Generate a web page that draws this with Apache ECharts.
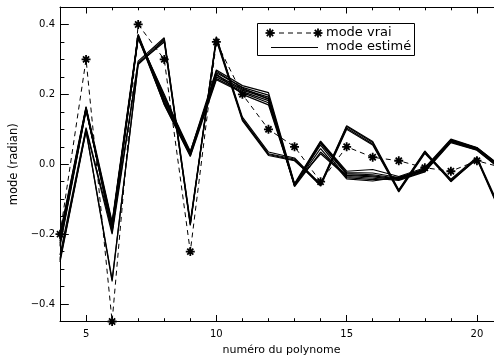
<!DOCTYPE html>
<html>
<head>
<meta charset="utf-8">
<script src="https://cdn.jsdelivr.net/npm/echarts@6/dist/echarts.min.js"></script>
<style>html,body{margin:0;padding:0;background:#fff}#c{width:494px;height:356px}</style>
</head>
<body>
<div id="c"></div>
<script>
// polynomial numbers
const polyNum = [4,5,6,7,8,9,10,11,12,13,14,15,16,17,18,19,20,21];
// true mode
const modeVrai = [-0.20,0.30,-0.45,0.40,0.30,-0.25,0.35,0.20,0.10,0.05,-0.05,0.05,0.02,0.01,-0.01,-0.02,0.01,-0.01];
// estimated modes (family A, dense bundle)
const estA1 = [-0.200,0.165,-0.165,0.372,0.185,0.035,0.270,0.225,0.205,-0.055,0.066,-0.020,-0.015,-0.035,-0.010,0.072,0.048,-0.010];
const estA2 = [-0.210,0.160,-0.170,0.368,0.180,0.030,0.262,0.220,0.198,-0.058,0.064,-0.024,-0.025,-0.038,-0.014,0.070,0.046,-0.013];
const estA3 = [-0.220,0.158,-0.175,0.365,0.176,0.028,0.255,0.215,0.192,-0.060,0.062,-0.027,-0.030,-0.040,-0.016,0.068,0.044,-0.015];
const estA4 = [-0.230,0.155,-0.180,0.362,0.172,0.025,0.250,0.212,0.188,-0.062,0.060,-0.030,-0.033,-0.042,-0.018,0.066,0.043,-0.017];
const estA5 = [-0.215,0.162,-0.185,0.360,0.190,0.032,0.245,0.208,0.182,-0.064,0.035,-0.032,-0.036,-0.044,-0.020,0.064,0.041,-0.018];
const estA6 = [-0.225,0.157,-0.190,0.370,0.170,0.022,0.242,0.205,0.176,-0.057,0.030,-0.035,-0.040,-0.046,-0.022,0.062,0.040,-0.020];
const estA7 = [-0.205,0.163,-0.195,0.366,0.195,0.037,0.258,0.200,0.170,-0.059,0.055,-0.038,-0.044,-0.040,-0.012,0.069,0.047,-0.012];
const estA8 = [-0.235,0.154,-0.172,0.363,0.200,0.027,0.266,0.218,0.186,-0.061,0.045,-0.042,-0.048,-0.037,-0.017,0.067,0.045,-0.016];
// estimated modes (family B)
const estB1 = [-0.260,0.105,-0.190,0.295,0.362,-0.165,0.362,0.135,0.035,0.018,-0.058,0.108,0.062,-0.075,0.036,-0.043,0.020,-0.145];
const estB2 = [-0.270,0.100,-0.200,0.290,0.358,-0.170,0.358,0.130,0.030,0.015,-0.060,0.104,0.058,-0.077,0.033,-0.046,0.016,-0.150];
const estB3 = [-0.275,0.097,-0.330,0.285,0.355,-0.175,0.365,0.128,0.028,0.012,-0.062,0.100,0.055,-0.079,0.031,-0.048,0.014,-0.155];
const estB4 = [-0.280,0.095,-0.335,0.288,0.350,-0.172,0.355,0.125,0.025,0.010,-0.056,0.110,0.065,-0.073,0.038,-0.050,0.018,-0.152];
const estimates = [estA1,estA2,estA3,estA4,estA5,estA6,estA7,estA8,estB1,estB2,estB3,estB4];
// tick labels
const xMajor = [5,10,15,20];
const yMajor = [-0.4,-0.2,0,0.2,0.4];

const FONT = 'DejaVu Sans';
const pair = arr => polyNum.map((x,i)=>[x,arr[i]]);
const starPath = 'path://M5 0L5 10M0 5L10 5M1.6 1.6L8.4 8.4M1.6 8.4L8.4 1.6';

function xAx(pos, major){
  return {type:'value', min:4, max:21, interval:1, position:pos,
    axisLine:{show:major, onZero:false, lineStyle:{color:'#000',width:1}},
    axisTick:major?{inside:true,length:6.5,customValues:xMajor,lineStyle:{color:'#000'}}:{inside:true,length:3.3,lineStyle:{color:'#000'}},
    axisLabel:(major&&pos==='bottom')?{customValues:xMajor,margin:8,color:'#000',fontFamily:FONT,fontSize:10}:{show:false},
    splitLine:{show:false}};
}
function yAx(pos, major){
  return {type:'value', min:-0.45, max:0.45, interval:0.05, position:pos,
    axisLine:{show:major, onZero:false, lineStyle:{color:'#000',width:1}},
    axisTick:major?{inside:true,length:8.8,customValues:yMajor,lineStyle:{color:'#000'}}:{inside:true,length:4.4,lineStyle:{color:'#000'}},
    axisLabel:(major&&pos==='left')?{customValues:yMajor,margin:5,color:'#000',fontFamily:FONT,fontSize:10,
      formatter:v=>(v<-1e-9?'\u2212':'')+Math.abs(v).toFixed(1)}:{show:false},
    splitLine:{show:false}};
}
const xAxes=[xAx('bottom',true),xAx('bottom',false),xAx('top',true),xAx('top',false)];
Object.assign(xAxes[0],{name:'numéro du polynome',nameLocation:'middle',nameGap:20,nameTextStyle:{color:'#000',fontFamily:FONT,fontSize:11}});
const yAxes=[yAx('left',true),yAx('left',false),yAx('right',true),yAx('right',false)];
Object.assign(yAxes[0],{name:'mode (radian)',nameLocation:'middle',nameGap:31,nameTextStyle:{color:'#000',fontFamily:FONT,fontSize:11.5}});

const series = estimates.map(e=>({type:'line',data:pair(e),showSymbol:false,symbol:'none',
  lineStyle:{color:'#000',width:1.2},animation:false,silent:true}));
series.push({type:'line',data:pair(modeVrai),symbol:starPath,symbolSize:9,showSymbol:true,
  itemStyle:{color:'rgba(0,0,0,0)',borderColor:'#000',borderWidth:1.8},
  lineStyle:{color:'#000',width:1,type:[5,4]},animation:false,silent:true,z:3});

function starLines(cx,cy){const r=4.5,d=3.2;
  return [[cx,cy-r,cx,cy+r],[cx-r,cy,cx+r,cy],[cx-d,cy-d,cx+d,cy+d],[cx-d,cy+d,cx+d,cy-d]].map(s=>({
    type:'line',shape:{x1:s[0],y1:s[1],x2:s[2],y2:s[3]},style:{stroke:'#000',lineWidth:1.8},z:11}));}
const graphic=[
  {type:'rect',shape:{x:257.5,y:23.5,width:157,height:32},style:{fill:'#fff',stroke:'#000',lineWidth:1},z:10},
  {type:'line',shape:{x1:270,y1:33,x2:318,y2:33},style:{stroke:'#000',lineWidth:1,lineDash:[5,4]},z:11},
  ...starLines(270,33),...starLines(318,33),
  {type:'text',style:{x:326,y:33,text:'mode vrai',fill:'#000',font:'13px "DejaVu Sans"',verticalAlign:'middle'},z:11},
  {type:'line',shape:{x1:271,y1:47.5,x2:318,y2:47.5},style:{stroke:'#000',lineWidth:1},z:11},
  {type:'text',style:{x:326,y:47,text:'mode estimé',fill:'#000',font:'13px "DejaVu Sans"',verticalAlign:'middle'},z:11}
];

const chart=echarts.init(document.getElementById('c'),null,{renderer:'canvas'});
chart.setOption({animation:false,backgroundColor:'#fff',
  grid:{left:60,top:7,width:443,height:314.5,containLabel:false,outerBoundsMode:'none'},
  xAxis:xAxes,yAxis:yAxes,series:series,graphic:graphic});
</script>
</body>
</html>
